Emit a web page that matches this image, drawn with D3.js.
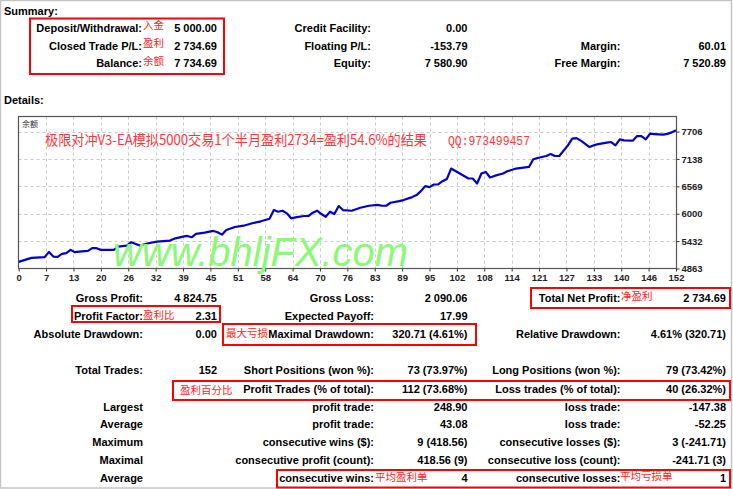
<!DOCTYPE html>
<html><head><meta charset="utf-8">
<script src="https://cdn.jsdelivr.net/npm/d3@7"></script>
<style>body{margin:0;background:#fff}svg{display:block}</style>
</head><body>
<svg id="c" width="733" height="489"></svg>
<script>
// ---- data ----
const trades = [0,2,3,6,7,8,9,10,11,12,13,14,16,17,18,19,22,23,25,26,28,30,32,35,36,38,39,40,41,43,45,46,47,48,50,52,54,56,58,59,60,61,62,63,64,66,67,68,69,70,71,72,73,74,75,77,79,81,83,84,85,86,88,89,91,92,93,94,95,96,97,98,99,100,102,104,105,106,107,108,109,110,112,113,115,118,119,120,122,123,124,125,127,128,129,130,132,133,134,136,137,138,139,140,142,143,144,145,146,147,149,150,151,152];
const balance = [5000,5057,5084,5099,5208,5111,5104,5167,5181,5250,5202,5215,5229,5285,5285,5250,5250,5318,5339,5409,5339,5388,5421,5442,5483,5525,5539,5512,5581,5608,5643,5616,5566,5663,5725,5752,5802,5843,5895,6077,6042,6063,6009,5905,5926,5953,5953,6021,6063,5994,5938,6042,5994,6160,6077,6063,6124,6166,6186,6166,6166,6228,6263,6284,6346,6387,6470,6573,6553,6608,6608,6677,6720,6939,6836,6732,6732,6629,6836,6869,6753,6786,6836,6883,6939,6972,7132,7159,7200,7241,7200,7200,7421,7560,7572,7518,7386,7421,7448,7477,7490,7421,7545,7524,7518,7613,7613,7545,7663,7655,7642,7660,7690,7734.69];
const xTickLabels = [0,7,13,20,26,32,39,45,51,58,64,70,76,83,89,95,102,108,114,121,127,133,140,146,152];
const yTickValues = [4863,5432,6000,6569,7138,7706];

const summaryLabels = ["Deposit/Withdrawal:","Closed Trade P/L:","Balance:"];
const summaryNotes = ["入金","盈利","余额"];
const summaryValues = ["5 000.00","2 734.69","7 734.69"];
const summaryLabels2 = ["Credit Facility:","Floating P/L:","Equity:"];
const summaryValues2 = ["0.00","-153.79","7 580.90"];
const summaryLabels3 = ["","Margin:","Free Margin:"];
const summaryValues3 = ["","60.01","7 520.89"];

const statLabelsA = ["Gross Profit:","Profit Factor:","Absolute Drawdown:","Total Trades:","","Largest","Average","Maximum","Maximal","Average"];
const statValuesA = ["4 824.75","2.31","0.00","152","","","","","",""];
const statLabelsB = ["Gross Loss:","Expected Payoff:","Maximal Drawdown:","Short Positions (won %):","Profit Trades (% of total):","profit trade:","profit trade:","consecutive wins ($):","consecutive profit (count):","consecutive wins:"];
const statValuesB = ["2 090.06","17.99","320.71 (4.61%)","73 (73.97%)","112 (73.68%)","248.90","43.08","9 (418.56)","418.56 (9)","4"];
const statLabelsC = ["Total Net Profit:","","Relative Drawdown:","Long Positions (won %):","Loss trades (% of total):","loss trade:","loss trade:","consecutive losses ($):","consecutive loss (count):","consecutive losses:"];
const statValuesC = ["2 734.69","","4.61% (320.71)","79 (73.42%)","40 (26.32%)","-147.38","-52.25","3 (-241.71)","-241.71 (3)","1"];

const notes = [["盈利比",143,315],["最大亏损",226,333],["净盈利",621,295.5],["盈利百分比",180,390],["平均盈利单",375,477],["平均亏损单",620,475.5]];
const title = "极限对冲V3-EA模拟5000交易1个半月盈利2734=盈利54.6%的结果";
const qq = "QQ:973499457";
const watermark = "www.bhljFX.com";

// ---- drawing ----
const svg = d3.select("#c");
const F = "'Liberation Sans', Arial, sans-serif";
const CJK = "'Noto Sans CJK SC', sans-serif";
svg.append("rect").attr("x",0).attr("y",0).attr("width",733).attr("height",489).attr("fill","#fff");
svg.append("rect").attr("x",0.5).attr("y",0.5).attr("width",731).attr("height",487.5)
  .attr("fill","none").attr("stroke","#c4c4c4").attr("stroke-width",1.5);

function txt(s, x, y, anchor, opts={}) {
  return svg.append("text").attr("x",x).attr("y",y).attr("text-anchor",anchor||"start")
    .attr("font-family",opts.family||F).attr("font-size",opts.size||11)
    .attr("font-weight",opts.weight||"bold").attr("fill",opts.fill||"#000").text(s);
}

txt("Summary:",4,15,"start");
txt("Details:",4,104,"start");

const sumY = [31.5,49.7,67.3];
sumY.forEach((y,i)=>{
  txt(summaryLabels[i],142,y,"end");
  txt(summaryNotes[i],143,y-2.5,"start",{family:CJK,size:10.5,weight:"normal",fill:"#ff1a1a"});
  txt(summaryValues[i],217,y,"end");
  txt(summaryLabels2[i],371,y,"end");
  txt(summaryValues2[i],467.5,y,"end");
  if (summaryLabels3[i]) txt(summaryLabels3[i],620.5,y,"end");
  if (summaryValues3[i]) txt(summaryValues3[i],726,y,"end");
});

const rowY = [302.3,320,337.7,374,392.7,410.7,428.3,446.3,464.3,482.3];
rowY.forEach((y,i)=>{
  if (statLabelsA[i]) txt(statLabelsA[i],143,y,"end");
  if (statValuesA[i]) txt(statValuesA[i],217,y,"end");
  if (statLabelsB[i]) txt(statLabelsB[i],374,y,"end");
  if (statValuesB[i]) txt(statValuesB[i],467.5,y,"end");
  if (statLabelsC[i]) txt(statLabelsC[i],620.5,y,"end");
  if (statValuesC[i]) txt(statValuesC[i],726,y,"end");
});
notes.forEach(n=>{
  txt(n[0],n[1],n[2]+4,"start",{family:CJK,size:10.5,weight:"normal",fill:"#ff1a1a"});
});

// red boxes
const boxes = [[30,18.5,194,55.5],[531,288,199,20],[72,306,148,16],[223,324,253,21],[173,381,557,19],[277,470,453,17.5]];
boxes.forEach(b=>svg.append("rect").attr("x",b[0]).attr("y",b[1]).attr("width",b[2]).attr("height",b[3])
  .attr("fill","none").attr("stroke","#ff0000").attr("stroke-width",2));

// ---- chart ----
const L=18.5, R=676.5, T=116.5, B=268.5;
const x = d3.scaleLinear().domain([0,152]).range([L+0.2,R-0.5]);
const y = d3.scaleLinear().domain([4863,8020]).range([B,T]);
const g = svg.append("g");
const gridX = d3.range(xTickLabels.length).map(k=>k*152/(xTickLabels.length-1));
g.selectAll(".gx").data(gridX.slice(1,-1)).enter().append("line")
  .attr("x1",d=>Math.round(x(d))+0.5).attr("x2",d=>Math.round(x(d))+0.5).attr("y1",T).attr("y2",B)
  .attr("stroke","#c8c8c8").attr("stroke-dasharray","3,3");
g.selectAll(".gy").data(yTickValues.slice(1)).enter().append("line")
  .attr("y1",d=>Math.round(y(d))+0.5).attr("y2",d=>Math.round(y(d))+0.5).attr("x1",L).attr("x2",R)
  .attr("stroke","#c8c8c8").attr("stroke-dasharray","3,3");

svg.append("defs").append("clipPath").attr("id","clip").append("rect")
  .attr("x",L).attr("y",T).attr("width",R-L).attr("height",B-T);

// axes via d3
const xAxis = d3.axisBottom(x).tickValues(gridX).tickFormat((d,i)=>xTickLabels[i]).tickSize(3).tickSizeOuter(0);
const gx = svg.append("g").attr("transform",`translate(0,${B})`).call(xAxis);
gx.select(".domain").remove();
gx.selectAll("line").attr("stroke","#333");
gx.selectAll("text").attr("font-family",F).attr("font-size",9.5).attr("font-weight","bold").attr("fill","#222").attr("dy","0.72em");
const yAxis = d3.axisRight(y).tickValues(yTickValues).tickFormat(d3.format("d")).tickSize(3).tickSizeOuter(0);
const gy = svg.append("g").attr("transform",`translate(${R},0)`).call(yAxis);
gy.select(".domain").remove();
gy.selectAll("line").attr("stroke","#333");
gy.selectAll("text").attr("font-family",F).attr("font-size",9.5).attr("font-weight","bold").attr("fill","#222").attr("x",5);

svg.append("rect").attr("x",L).attr("y",T).attr("width",R-L).attr("height",B-T)
  .attr("fill","none").attr("stroke","#555").attr("stroke-width",1.2);

txt("余额",22,127,"start",{family:CJK,size:8,weight:"normal",fill:"#333"});

const pts = trades.map((t,i)=>({t, v: balance[i]}));
svg.append("path").datum(pts).attr("clip-path","url(#clip)")
  .attr("d", d3.line().x(d=>x(d.t)).y(d=>y(d.v)))
  .attr("fill","none").attr("stroke","#0000c8").attr("stroke-width",2.2).attr("stroke-linejoin","round");

txt(title,45,144.5,"start",{family:CJK,size:14,weight:"normal",fill:"#ff3535"})
  .attr("textLength",382).attr("lengthAdjust","spacingAndGlyphs");
txt(qq,448,144.5,"start",{family:"'Liberation Mono', monospace",size:13,weight:"normal",fill:"#ff3535"})
  .attr("textLength",82).attr("lengthAdjust","spacingAndGlyphs");

txt(watermark,113,266,"start",{family:F,size:40,weight:"normal",fill:"#8cf878"})
  .attr("font-style","italic").attr("textLength",295).attr("lengthAdjust","spacingAndGlyphs");
</script>
</body></html>
